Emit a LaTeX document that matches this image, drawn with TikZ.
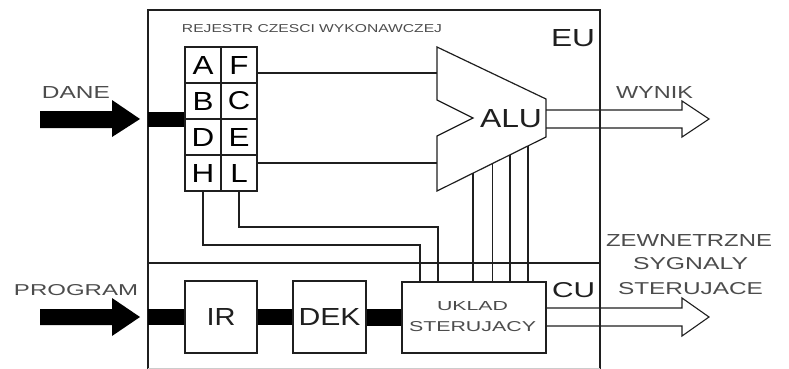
\documentclass[tikz,border=0pt]{standalone}
\usepackage{fontspec}
\setmainfont{Liberation Sans}
\usetikzlibrary{calc}
\definecolor{lbl}{gray}{0.3}
\definecolor{ink}{gray}{0.12}
\newcommand{\fitt}[3]{\resizebox{#1pt}{#2pt}{#3}}
\newcommand{\regl}[1]{\scalebox{1.2}[1]{\resizebox{!}{18pt}{#1}}}
\begin{document}
\begin{tikzpicture}[x=1pt,y=-1pt,
  wire/.style={line width=1.1pt,draw=ink},
  frame/.style={line width=1.4pt,draw=ink},
  box/.style={draw=ink,line width=1.2pt,inner sep=0pt,fill=white},
  cell/.style={box,minimum width=36pt,minimum height=36pt,text=black},
  txt/.style={inner sep=0pt,text=lbl},
  big/.style={inner sep=0pt,text=ink},
  hollow/.style={line width=1.1pt,draw=ink,line join=miter}]
\useasboundingbox (0,0) rectangle (789,369);
% main frame
\coordinate (fbl) at (148,369);
\coordinate (ftl) at (148,10);
\coordinate (ftr) at (600,10);
\coordinate (fbr) at (600,369);
\coordinate (dl) at (148,263);
\coordinate (dr) at (600,263);
\draw[frame] (fbl) -- (ftl) -- (ftr) -- (fbr);
\draw[line width=0.6pt,draw=black!20] (148,368) -- (600,368);
\draw[wire] (dl) -- (dr);
% labels
\node[txt] (rej) at (312,29) {\fitt{260}{8}{REJESTR CZESCI WYKONAWCZEJ}};
\node[big] (eu) at (573,38.5) {\fitt{44}{17}{EU}};
\node[big] (cu) at (573.5,290.5) {\fitt{43}{15}{CU}};
\node[txt] (dane) at (76,92) {\fitt{68}{12}{DANE}};
\node[txt] (prog) at (76,290.5) {\fitt{124}{11}{PROGRAM}};
\node[txt] (wyn) at (654.5,92) {\fitt{77}{12}{WYNIK}};
\node[txt] (z1) at (689,240) {\fitt{166}{12}{ZEWNETRZNE}};
\node[txt] (z2) at (690.5,264) {\fitt{115}{12}{SYGNALY}};
\node[txt] (z3) at (690.5,288.5) {\fitt{145}{12}{STERUJACE}};
% register file
\node[cell] (A) at (203,65) {\regl{A}};
\node[cell] (F) at (239,65) {\regl{F}};
\node[cell] (B) at (203,101) {\regl{B}};
\node[cell] (C) at (239,101) {\regl{C}};
\node[cell] (D) at (203,137) {\regl{D}};
\node[cell] (E) at (239,137) {\regl{E}};
\node[cell] (H) at (203,173) {\regl{H}};
\node[cell] (L) at (239,173) {\regl{L}};
% ALU
\coordinate (atl) at (437,47);
\coordinate (ant) at (437,100);
\coordinate (anp) at (473,118);
\coordinate (anb) at (437,136);
\coordinate (abl) at (437,191);
\coordinate (abr) at (546,137);
\coordinate (atr) at (546,99);
\draw[box] (atl) -- (ant) -- (anp) -- (anb) -- (abl) -- (abr) -- (atr) -- cycle;
\node[big] (alu) at (511,119) {\fitt{62}{18}{ALU}};
% wires from registers to ALU
\draw[wire] ([yshift=-8pt]F.east) -- ([yshift=-8pt]F.east -| atl);
\draw[wire] ([yshift=10pt]L.east) -- ([yshift=10pt]L.east -| atl);
% control boxes
\node[box,minimum width=72pt,minimum height=72pt] (ir) at (221,317) {};
\node[big] at (ir.center) {\fitt{29}{17}{IR}};
\node[box,minimum width=73pt,minimum height=72pt] (dek) at (329.5,317) {};
\node[big] at (dek.center) {\fitt{62}{17}{DEK}};
\node[box,minimum width=144pt,minimum height=71pt] (ukl) at (474,317.5) {};
\node[txt] (ukl1) at (472.5,306.5) {\fitt{71}{9}{UKLAD}};
\node[txt] (ukl2) at (472.5,327) {\fitt{127}{10}{STERUJACY}};
% wires ALU -> UKLAD
\foreach \t [count=\i] in {0.330,0.505,0.670,0.835}{
  \coordinate (p\i) at ($(abl)!\t!(abr)$);
  \draw[wire] (p\i) -- (p\i |- ukl.north);
}
% H and L wires
\coordinate (hw) at (420,245);
\coordinate (lw) at (438,227);
\draw[wire] (H.south) |- (hw) -- (hw |- ukl.north);
\draw[wire] (L.south) |- (lw) -- (lw |- ukl.north);
% black input arrows
\fill[black] (40,111) -- (112,111) -- (112,100) -- (140,119) -- (112,137) -- (112,128) -- (40,128) -- cycle;
\fill[black] (148,112) rectangle ([yshift=-7.5pt]B.south west);
\fill[black] (40,309) -- (112,309) -- (112,298) -- (140,317) -- (112,336) -- (112,325) -- (40,325) -- cycle;
\fill[black] ([yshift=8pt]ir.west -| fbl) rectangle ([yshift=-8pt]ir.west);
\fill[black] ([yshift=8pt]ir.east) rectangle ([yshift=-8pt]dek.west);
\fill[black] ([yshift=8pt]dek.east) rectangle ([yshift=-8pt]ukl.west);
% hollow output arrows
\draw[hollow] (atr |- 0,110) -- (682,110) -- (682,101) -- (709,119) -- (682,137) -- (682,128) -- (atr |- 0,128);
\draw[hollow] (ukl.east |- 0,308) -- (682,308) -- (682,298) -- (709,317) -- (682,336) -- (682,326) -- (ukl.east |- 0,326);
\end{tikzpicture}
\end{document}
